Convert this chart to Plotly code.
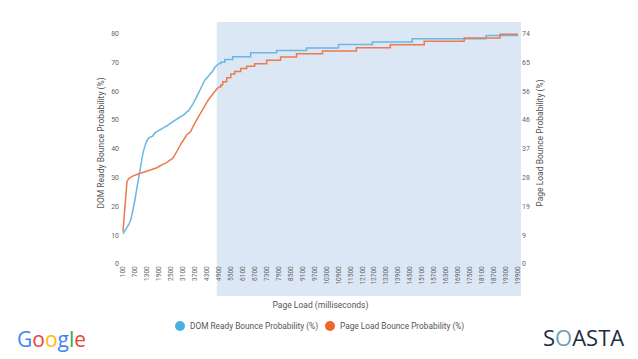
import plotly.graph_objects as go

# Page load (ms) and DOM Ready bounce probability (%), left axis
dom_ms = [100, 200, 300, 400, 500, 600, 700, 800, 900, 1000,
          1100, 1200, 1300, 1400, 1500, 1600, 1700, 1800, 1900, 2000,
          2100, 2200, 2300, 2400, 2500, 2600, 2700, 2800, 2900, 3000,
          3100, 3200, 3300, 3400, 3500, 3600, 3700, 3800, 3900, 4000,
          4100, 4200, 4300, 4400, 4500, 4600, 4700, 4800, 4900]
dom_vals = [10.5, 11.5, 12.5, 13.8, 15.5, 18.5, 22.3, 26.5, 31.0, 35.0,
            38.5, 41.0, 42.8, 43.8, 44.2, 44.5, 45.5, 46.0, 46.3, 46.8,
            47.2, 47.6, 47.9, 48.5, 49.0, 49.4, 49.8, 50.2, 50.8, 51.2,
            51.5, 52.3, 52.8, 53.3, 54.2, 55.5, 56.8, 58.0, 59.5, 61.0,
            62.5, 63.8, 64.6, 65.3, 66.0, 67.0, 68.2, 69.0, 69.6]
dom_step_ms = [4900, 5000, 5200, 5600, 6500, 7800, 9300, 10900, 12600, 14600, 18300, 19900]
dom_step_vals = [69.6, 70.0, 71.0, 71.9, 73.3, 74.1, 75.0, 76.2, 77.1, 78.2, 79.3, 79.3]

# Page Load bounce probability (%), right axis
pl_ms = [100, 200, 300, 400, 500, 600, 700, 800, 900, 1000,
         1100, 1200, 1300, 1400, 1500, 1600, 1700, 1800, 1900, 2000,
         2100, 2200, 2300, 2400, 2500, 2600, 2700, 2800, 2900, 3000,
         3100, 3200, 3300, 3400, 3500, 3600, 3700, 3800, 3900, 4000,
         4100, 4200, 4300, 4400, 4500, 4600, 4700, 4800, 4900]
pl_vals = [10.4, 18.0, 26.5, 27.5, 28.0, 28.3, 28.5, 28.8, 29.0, 29.2,
           29.4, 29.6, 29.9, 30.1, 30.3, 30.5, 30.7, 30.9, 31.3, 31.7,
           32.0, 32.3, 32.6, 33.0, 33.4, 34.0, 35.0, 36.3, 37.3, 38.5,
           39.5, 40.5, 41.5, 42.0, 42.6, 44.0, 45.3, 46.5, 47.5, 48.5,
           49.8, 51.0, 51.9, 52.9, 53.8, 54.7, 55.5, 56.2, 56.8]
pl_step_ms = [4900, 5000, 5100, 5300, 5500, 5700, 6000, 6300, 6700, 7300, 8000,
              8800, 10100, 11800, 13500, 15200, 17200, 19000, 19900]
pl_step_vals = [56.8, 57.5, 58.5, 59.8, 61.0, 61.8, 62.8, 63.5, 64.3, 65.4, 66.5,
                67.5, 68.4, 69.4, 70.4, 71.5, 72.6, 73.8, 73.8]

x_ticks = list(range(100, 20000, 600))
left_ticks = [0, 10, 20, 30, 40, 50, 60, 70, 80]
right_tickvals = [74 * k / 8 for k in range(9)]
right_ticktext = ["0", "9", "19", "28", "37", "46", "56", "65", "74"]
shade_start = 4800
legend_names = ["DOM Ready Bounce Probability (%)", "Page Load Bounce Probability (%)"]

BLUE = "#6ab7e2"
ORANGE = "#ee7a4c"
FONT = "Roboto"

# page -> paper helpers (plot area in page px: x 120..521, y 22..264)
def px(x):
    return (x - 120) / 401.0

def py(y):
    return (264 - y) / 242.0

fig = go.Figure()
fig.add_trace(go.Scatter(x=dom_ms, y=dom_vals, mode="lines", line=dict(color=BLUE, width=1.5),
                         showlegend=False, yaxis="y"))
fig.add_trace(go.Scatter(x=dom_step_ms, y=dom_step_vals, mode="lines",
                         line=dict(color=BLUE, width=1.5, shape="hv"), showlegend=False, yaxis="y"))
fig.add_trace(go.Scatter(x=pl_ms, y=pl_vals, mode="lines", line=dict(color=ORANGE, width=1.5),
                         showlegend=False, yaxis="y2"))
fig.add_trace(go.Scatter(x=pl_step_ms, y=pl_step_vals, mode="lines",
                         line=dict(color=ORANGE, width=1.5, shape="hv"), showlegend=False, yaxis="y2"))

fig.add_shape(type="rect", xref="x", yref="paper", x0=shade_start, x1=20050, y0=py(296), y1=1.0,
              fillcolor="#dce7f5", line=dict(width=0), layer="below")

# legend drawn manually
for cx, col, name in [(180, "#4aaee3", legend_names[0]), (330, "#f0652e", legend_names[1])]:
    fig.add_shape(type="circle", xref="paper", yref="paper",
                  x0=px(cx - 5), x1=px(cx + 5), y0=py(326 + 5), y1=py(326 - 5),
                  fillcolor=col, line=dict(width=0))
    fig.add_annotation(text=name, xref="paper", yref="paper", x=px(cx + 8), y=py(326),
                       xanchor="left", yanchor="middle", showarrow=False,
                       font=dict(size=8.3, color="#555", family=FONT))

fig.update_layout(
    width=630, height=351,
    margin=dict(l=112, r=117, t=14, b=95),
    paper_bgcolor="white", plot_bgcolor="white",
    font=dict(family=FONT, color="#555"),
    showlegend=False,
    xaxis=dict(range=[-50, 20050], tickvals=x_ticks, ticktext=[str(v) for v in x_ticks],
               tickangle=-90, tickfont=dict(size=6.5, color="#666"), showgrid=False, zeroline=False,
               showline=False, ticks="",
               title=dict(text="Page Load (milliseconds)", font=dict(size=8.5, color="#555"), standoff=18)),
    yaxis=dict(range=[0, 84], tickvals=left_ticks, tickfont=dict(size=7, color="#666"),
               showgrid=False, zeroline=False, showline=False, ticks="",
               title=dict(text="DOM Ready Bounce Probability (%)", font=dict(size=8.5, color="#555"), standoff=5)),
    yaxis2=dict(range=[0, 84 * 74 / 80], overlaying="y", side="right", tickvals=right_tickvals,
                ticktext=right_ticktext, tickfont=dict(size=7, color="#666"),
                showgrid=False, zeroline=False, showline=False, ticks="",
                title=dict(text="Page Load Bounce Probability (%)", font=dict(size=8.5, color="#555"), standoff=8)),
)

google = ("<span style='color:#4285F4'>G</span><span style='color:#EA4335'>o</span>"
          "<span style='color:#FBBC05'>o</span><span style='color:#4285F4'>g</span>"
          "<span style='color:#34A853'>l</span><span style='color:#EA4335'>e</span>")
fig.add_annotation(text=google, xref="paper", yref="paper", x=px(15), y=py(339), xanchor="left",
                   yanchor="middle", showarrow=False, font=dict(family="Open Sans", size=21))
fig.add_annotation(text="S<span style='color:#6f9fb8'>O</span>ASTA", xref="paper", yref="paper",
                   x=px(626), y=py(337), xanchor="right", yanchor="middle", showarrow=False,
                   font=dict(family="Open Sans", size=22, color="#1e2d3b"))

fig.write_html("out.html")
